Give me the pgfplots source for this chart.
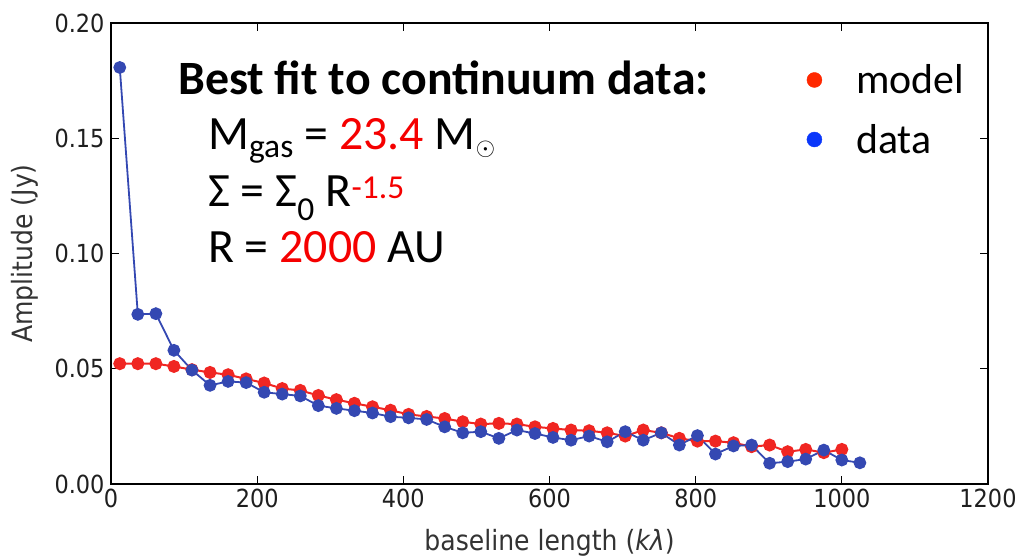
\documentclass[border=0pt]{standalone}
\usepackage{fontspec}
\setmainfont{Carlito}
\newfontfamily\mpl{DejaVu Sans}[FakeStretch=0.9]
\usepackage{pgfplots}
\pgfplotsset{compat=1.18}
\definecolor{dblue}{RGB}{52,72,178}
\definecolor{dred}{RGB}{240,38,34}
\definecolor{legred}{RGB}{255,40,0}
\definecolor{legblue}{RGB}{10,55,250}
\definecolor{txtred}{RGB}{245,0,0}
\begin{document}
\begin{tikzpicture}
\useasboundingbox (-111bp,-72bp) rectangle (910bp,484bp);
\begin{axis}[
  at={(0,0)}, anchor=south west,
  scale only axis, width=877bp, height=461bp,
  xmin=0, xmax=1200, ymin=0, ymax=0.2,
  xtick={0,200,...,1200},
  ytick={0,0.05,0.1,0.15,0.2},
  tick align=inside,
  major tick length=8bp,
  axis line style={line width=1.6bp, black},
  every tick/.style={black, line width=1bp},
  /pgf/number format/assume math mode=true,
  /pgf/number format/1000 sep={},
  ticklabel style={font=\mpl\fontsize{25}{25}\selectfont, text=black!88},
  yticklabel style={/pgf/number format/fixed, /pgf/number format/fixed zerofill, /pgf/number format/precision=2, xshift=-3bp},
  xticklabel style={yshift=-1bp},
  xlabel={baseline length (\textit{kλ})},
  ylabel={Amplitude (Jy)},
  xlabel style={font=\mpl\fontsize{28}{28}\selectfont, text=black!80, at={(axis description cs:0.5,-0.144)}, anchor=base},
  ylabel style={font=\mpl\fontsize{28}{28}\selectfont, text=black!80, at={(axis description cs:-0.098,0.5)}, anchor=center},
  legend style={draw=none, fill=none, at={(axis cs:951.7,0.182)}, anchor=north west,
    font=\fontsize{42}{42}\selectfont, inner sep=0pt, row sep=29bp,
    nodes={inner sep=0pt},
    /tikz/every odd column/.append style={column sep=34bp}},
  legend cell align=left,
  legend image code/.code={\fill (0bp,0bp) circle (7.5bp);},
]
\addplot[color=dred, line width=2bp, mark=*, mark size=5.5bp, mark options={fill=dred, draw=dred}, forget plot] coordinates {
(12,0.0522) (36.7,0.0522) (61.4,0.0522) (86.1,0.0510) (110.8,0.0496)
(135.5,0.0484) (160.2,0.0474) (184.9,0.0456) (209.6,0.0438) (234.3,0.0414)
(259,0.0406) (283.7,0.0384) (308.4,0.0366) (333.1,0.0350) (357.8,0.0335)
(382.5,0.0320) (407.2,0.0302) (431.9,0.0293) (456.6,0.0284) (481.3,0.0270)
(506,0.0260) (530.7,0.0263) (555.4,0.0260) (580.1,0.0248) (604.8,0.0241)
(629.5,0.0234) (654.2,0.0231) (678.9,0.0222) (703.6,0.0208) (728.3,0.0234)
(753,0.0222) (777.7,0.0198) (802.4,0.0186) (827.1,0.0186) (851.8,0.0179)
(876.5,0.0162) (901.2,0.0169) (925.9,0.0140) (950.6,0.0150) (975.3,0.0136)
(1000,0.0150)
};
\addplot[color=dblue, line width=1.8bp, mark=*, mark size=5.5bp, mark options={fill=dblue, draw=dblue}, forget plot] coordinates {
(12,0.1807) (36.7,0.0736) (61.4,0.0739) (86.1,0.0580) (110.8,0.0494)
(135.5,0.0428) (160.2,0.0445) (184.9,0.0440) (209.6,0.0398) (234.3,0.0390)
(259,0.0382) (283.7,0.0340) (308.4,0.0328) (333.1,0.0318) (357.8,0.0308)
(382.5,0.0292) (407.2,0.0287) (431.9,0.0280) (456.6,0.0248) (481.3,0.0222)
(506,0.0227) (530.7,0.0198) (555.4,0.0234) (580.1,0.0219) (604.8,0.0202)
(629.5,0.0190) (654.2,0.0208) (678.9,0.0183) (703.6,0.0227) (728.3,0.0190)
(753,0.0222) (777.7,0.0169) (802.4,0.0210) (827.1,0.0130) (851.8,0.0165)
(876.5,0.0169) (901.2,0.0090) (925.9,0.0097) (950.6,0.0108) (975.3,0.0147)
(1000,0.0104) (1024.7,0.0092)
};
\addlegendimage{color=legred, fill=legred}
\addlegendentry{model}
\addlegendimage{color=legblue, fill=legblue}
\addlegendentry{data}
\end{axis}
\node[anchor=base west, inner sep=0pt, font=\fontsize{48}{48}\selectfont\bfseries] at (67bp,389bp) {Best fit to continuum data:};
\node[anchor=base west, inner sep=0pt, font=\fontsize{48}{48}\selectfont] at (97bp,334bp) {M\textsubscript{gas} = \textcolor{txtred}{23.4} M\textsubscript{\(\odot\)}};
\node[anchor=base west, inner sep=0pt, font=\fontsize{48}{48}\selectfont] at (97bp,277bp) {Σ = Σ\textsubscript{0} R\textsuperscript{\textcolor{txtred}{-1.5}}};
\node[anchor=base west, inner sep=0pt, font=\fontsize{48}{48}\selectfont] at (97bp,221bp) {R = \textcolor{txtred}{2000} AU};
\end{tikzpicture}
\end{document}
